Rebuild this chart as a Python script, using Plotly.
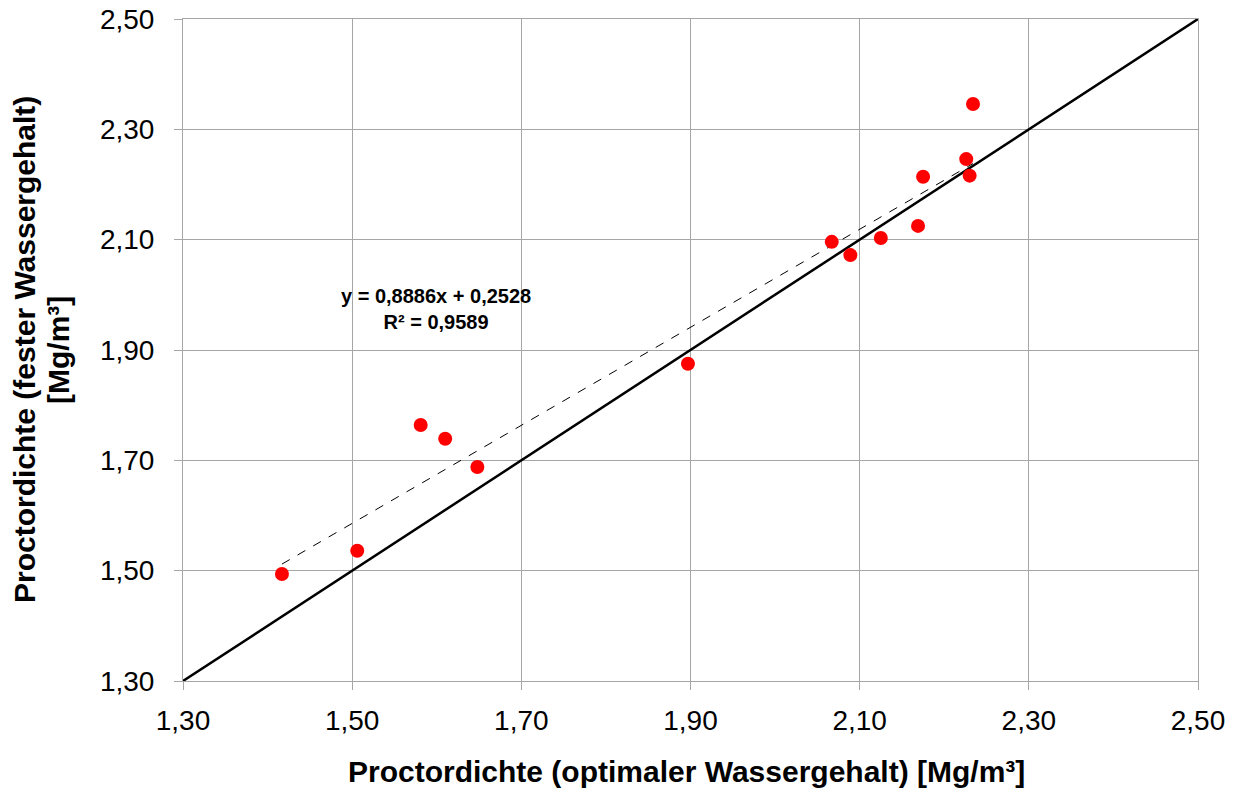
import plotly.graph_objects as go

x_opt = [1.417, 1.506, 1.581, 1.610, 1.648, 1.897, 2.067, 2.089, 2.125, 2.169, 2.175, 2.226, 2.230, 2.234]
y_fest = [1.494, 1.536, 1.764, 1.739, 1.688, 1.875, 2.096, 2.072, 2.103, 2.125, 2.214, 2.246, 2.216, 2.346]
slope, intercept = 0.8886, 0.2528
ticks = [1.30, 1.50, 1.70, 1.90, 2.10, 2.30, 2.50]

trend_x = [min(x_opt), max(x_opt)]
trend_y = [slope * v + intercept for v in trend_x]

fig = go.Figure()
fig.add_trace(go.Scatter(x=[1.30, 2.50], y=[1.30, 2.50], mode="lines",
                         line=dict(color="black", width=2.5), showlegend=False, hoverinfo="skip"))
fig.add_trace(go.Scatter(x=trend_x, y=trend_y, mode="lines",
                         line=dict(color="black", width=1, dash="dash"), showlegend=False))
fig.add_trace(go.Scatter(x=x_opt, y=y_fest, mode="markers",
                         marker=dict(color="#ff0000", size=14), showlegend=False))

font_family = "Arial, Liberation Sans, sans-serif"
axis_common = dict(range=[1.30, 2.50], tickvals=ticks, tickformat=".2f",
                   showgrid=True, gridcolor="#a6a6a6", gridwidth=1,
                   showline=True, linecolor="#a6a6a6", linewidth=1, mirror=True,
                   ticks="outside", ticklen=8, tickcolor="#a6a6a6",
                   tickfont=dict(size=28, color="black", family=font_family),
                   zeroline=False, automargin=False)
fig.update_xaxes(**axis_common, ticklabelstandoff=6)
fig.update_yaxes(**axis_common, ticklabelstandoff=14)

fig.add_annotation(x=1.599, y=1.974, xref="x", yref="y",
                   text="<b>y = 0,8886x + 0,2528<br>R² = 0,9589</b>", showarrow=False,
                   font=dict(size=20, color="black", family=font_family), align="center")
fig.add_annotation(x=0.5, y=0, xref="paper", yref="paper", yshift=-90, xshift=-4,
                   text="<b>Proctordichte (optimaler Wassergehalt) [Mg/m³]</b>", showarrow=False,
                   font=dict(size=30, color="black", family=font_family), yanchor="middle")
fig.add_annotation(x=0, y=0.5, xref="paper", yref="paper", xshift=-159,
                   text="<b>Proctordichte (fester Wassergehalt)</b>", showarrow=False,
                   textangle=-90, font=dict(size=30, color="black", family=font_family),
                   xanchor="center", yanchor="middle")
fig.add_annotation(x=0, y=0.5, xref="paper", yref="paper", xshift=-125,
                   text="<b>[Mg/m³]</b>", showarrow=False,
                   textangle=-90, font=dict(size=30, color="black", family=font_family),
                   xanchor="center", yanchor="middle")

fig.update_layout(width=1240, height=792, separators=",.",
                  margin=dict(l=183, r=42, t=19, b=111),
                  plot_bgcolor="white", paper_bgcolor="white",
                  font=dict(family=font_family, color="black"))
fig.write_html("out.html")
